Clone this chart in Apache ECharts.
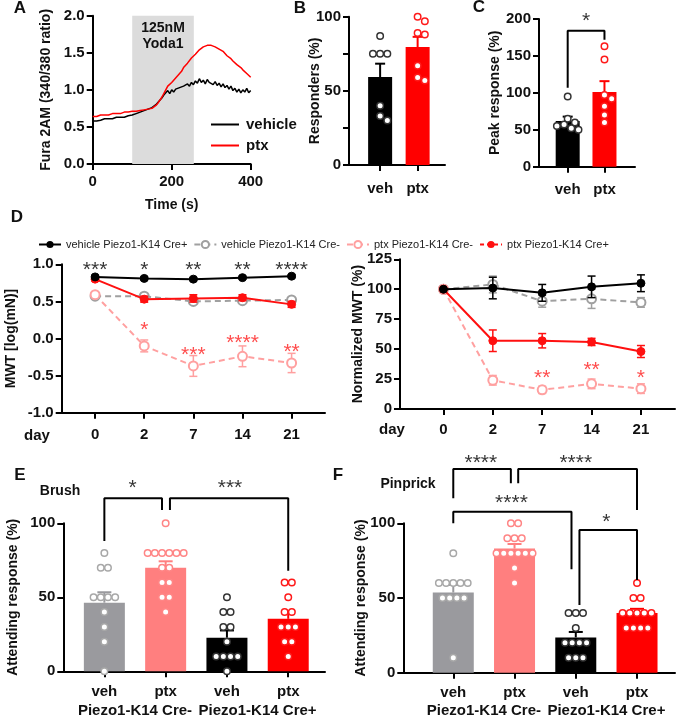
<!DOCTYPE html>
<html>
<head>
<meta charset="utf-8">
<script src="https://cdn.jsdelivr.net/npm/echarts@6.0.0/dist/echarts.min.js"></script>
<style>
html,body{margin:0;padding:0;background:#fff}
#chart{width:680px;height:719px}
</style>
</head>
<body>
<div id="chart"></div>
<script>
var FONT = '"Liberation Sans", Arial, sans-serif';

// ---- A: Fura-2 ratio traces, one sample every 5 s ----
var traceStep = 5;
var traceVehicle = [
  0.58,0.59,0.58,0.60,0.59,0.60,0.61,0.60,0.61,0.62,0.61,0.62,0.63,0.62,0.63,0.64,0.63,0.64,0.65,0.64,
  0.66,0.67,0.68,0.69,0.70,0.71,0.72,0.73,0.74,0.74,0.76,0.78,0.80,0.83,0.86,0.89,
  0.93,0.96,0.99,0.95,1.00,0.97,1.01,0.99,1.03,1.02,1.05,1.03,1.08,1.05,1.10,1.07,
  1.12,1.09,1.15,1.10,1.13,1.08,1.14,1.10,1.12,1.07,1.11,1.06,1.09,1.04,1.08,1.03,
  1.06,1.01,1.05,0.99,1.02,0.97,1.01,0.96,1.00,0.97,1.02,0.96,0.99
];
var tracePtx = [
  0.64,0.65,0.64,0.65,0.66,0.65,0.66,0.67,0.66,0.67,0.68,0.67,0.68,0.69,0.68,0.69,0.70,0.69,0.70,0.71,
  0.71,0.72,0.71,0.73,0.72,0.74,0.73,0.75,0.74,0.73,0.75,0.77,0.79,0.82,0.86,0.90,
  0.95,1.00,1.05,1.03,1.10,1.09,1.16,1.15,1.22,1.25,1.30,1.30,1.36,1.37,1.43,1.44,
  1.48,1.50,1.54,1.55,1.58,1.57,1.60,1.59,1.60,1.58,1.58,1.56,1.55,1.53,1.52,1.50,
  1.46,1.44,1.42,1.39,1.37,1.34,1.32,1.30,1.27,1.25,1.22,1.20,1.17
];
var yodaWindow = [100, 256];

// ---- B, C ----
var vehPtx = ['veh', 'ptx'];
var respVeh = [87, 75, 75, 75, 40, 33, 30];
var respPtx = [100, 97, 89, 88, 67, 59, 57];
var peakVeh = [95, 65, 60, 57, 55, 52, 50];
var peakPtx = [163, 145, 97, 92, 82, 70, 60];

// ---- D: von Frey ----
var days = ['0', '2', '7', '14', '21'];
var mwtVehPos = [0.83, 0.81, 0.80, 0.82, 0.84];
var mwtVehPosErr = [0.02, 0.02, 0.02, 0.02, 0.02];
var mwtVehNeg = [0.57, 0.57, 0.50, 0.51, 0.52];
var mwtVehNegErr = [0.02, 0.03, 0.03, 0.02, 0.02];
var mwtPtxNeg = [0.59, -0.10, -0.37, -0.24, -0.33];
var mwtPtxNegErr = [0.03, 0.08, 0.14, 0.14, 0.13];
var mwtPtxPos = [0.80, 0.53, 0.54, 0.55, 0.46];
var mwtPtxPosErr = [0.02, 0.04, 0.05, 0.04, 0.04];

var normVehPos = [100, 101, 97, 102, 105];
var normVehPosErr = [0, 9, 7, 9, 7];
var normVehNeg = [100, 104, 90, 92, 89];
var normVehNegErr = [0, 7, 5, 8, 4];
var normPtxNeg = [100, 24, 16, 21, 17];
var normPtxNegErr = [0, 4, 3, 4, 4];
var normPtxPos = [100, 57, 57, 56, 48];
var normPtxPosErr = [0, 9, 6, 3, 5];

var mwtStarsBlack = ['***', '*', '**', '**', '****'];
var mwtStarsRed = [['*', 1, 0.18], ['***', 2, -0.15], ['****', 3, 0.01], ['**', 4, -0.11]];
var normStarsRed = [['**', 2, 30], ['**', 3, 37], ['*', 4, 30]];

// ---- E, F: attending response ----
var efCats = ['veh', 'ptx', 'veh', 'ptx'];
var efGroups = ['Piezo1-K14 Cre-', 'Piezo1-K14 Cre+'];
var brushVehNeg = [80, 70, 70, 50, 50, 50, 50, 40, 30, 20, 0];
var brushPtxNeg = [100, 80, 80, 80, 80, 80, 80, 70, 70, 60, 60, 50, 50, 40];
var brushVehPos = [50, 40, 40, 30, 30, 20, 10, 10, 10, 10, 0];
var brushPtxPos = [60, 60, 50, 40, 40, 30, 30, 30, 20, 20, 10];
var pinVehNeg = [80, 60, 60, 60, 60, 60, 50, 50, 50, 50, 10];
var pinPtxNeg = [100, 100, 90, 90, 90, 80, 80, 80, 80, 80, 80, 70, 60];
var pinVehPos = [40, 40, 40, 30, 20, 20, 20, 20, 10, 10, 10];
var pinPtxPos = [60, 50, 50, 40, 40, 40, 40, 40, 30, 30, 30, 30];

var barColors = ['#9a9a9e', '#ff7f7f', '#000000', '#ff0000'];
var dotColors = ['#a8a8a8', '#ff8585', '#333333', '#ff1a1a'];

// ---------------------------------------------------------------
function mean(a) { var s = 0; a.forEach(function (v) { s += v; }); return s / a.length; }
function sem(a) {
  var m = mean(a), s = 0;
  a.forEach(function (v) { s += (v - m) * (v - m); });
  return Math.sqrt(s / (a.length - 1)) / Math.sqrt(a.length);
}

// column scatter: rows of equal values centred, shifted sideways on collision
function swarm(values, pxY, pxX, d) {
  var sorted = values.slice().sort(function (a, b) { return b - a; });
  var placed = [], out = [], i = 0;
  while (i < sorted.length) {
    var j = i;
    while (j < sorted.length && sorted[j] === sorted[i]) j++;
    var k = j - i, v = sorted[i];
    var shifts = [0];
    for (var s = 1; s < 30; s++) shifts.push(s * d / 2, -s * d / 2);
    for (var si = 0; si < shifts.length; si++) {
      var xs = [];
      for (var r = 0; r < k; r++) xs.push((r - (k - 1) / 2) * d + shifts[si]);
      var ok = xs.every(function (x) {
        return placed.every(function (p) {
          var dx = x - p[0], dy = (v - p[1]) * pxY;
          return dx * dx + dy * dy >= d * d * 0.9;
        });
      });
      if (ok) {
        xs.forEach(function (x) { placed.push([x, v]); out.push([x / pxX, v]); });
        break;
      }
    }
    i = j;
  }
  return out;
}

function errorBar(cap, lw, oneSided, colors) {
  return function (params, api) {
    var x = api.value(0), m = api.value(1), e = api.value(2);
    var color = colors[api.value(3)];
    if (!e) return { type: 'group', children: [] };
    var top = api.coord([x, m + e]);
    var bot = api.coord([x, oneSided ? m : m - e]);
    var st = { stroke: color, lineWidth: lw };
    var kids = [
      { type: 'line', shape: { x1: top[0], y1: top[1], x2: bot[0], y2: bot[1] }, style: st },
      { type: 'line', shape: { x1: top[0] - cap / 2, y1: top[1], x2: top[0] + cap / 2, y2: top[1] }, style: st }
    ];
    if (!oneSided) {
      kids.push({ type: 'line', shape: { x1: bot[0] - cap / 2, y1: bot[1], x2: bot[0] + cap / 2, y2: bot[1] }, style: st });
    }
    return { type: 'group', children: kids };
  };
}

var grid = [], xAxis = [], yAxis = [], series = [], graphic = [];
var lineStyleAxis = { show: true, onZero: false, lineStyle: { color: '#000', width: 2 } };
var tickStyle = { show: true, length: 6, lineStyle: { color: '#000', width: 2 } };
function lbl(size, margin) {
  return { color: '#111', fontFamily: FONT, fontWeight: 'bold', fontSize: size, margin: margin };
}
var nameStyle = { color: '#111', fontFamily: FONT, fontWeight: 'bold', fontSize: 14 };

function addGrid(b) {
  b.outerBoundsMode = 'none';
  b.containLabel = false;
  grid.push(b);
  return grid.length - 1;
}
function addY(gi, min, max, interval, name, gap, fmt) {
  yAxis.push({
    type: 'value', gridIndex: gi, min: min, max: max, interval: interval,
    axisLine: lineStyleAxis, axisTick: tickStyle, splitLine: { show: false },
    axisLabel: Object.assign(lbl(15, 8), { formatter: fmt }),
    name: name, nameLocation: 'middle', nameGap: gap, nameRotate: 90,
    nameTextStyle: nameStyle, nameMoveOverlap: false
  });
  return yAxis.length - 1;
}
function addCatX(gi, min, max, labels, margin) {
  var idx = labels.map(function (l, i) { return i; });
  xAxis.push({
    type: 'value', gridIndex: gi, min: min, max: max,
    axisLine: lineStyleAxis, splitLine: { show: false },
    axisTick: Object.assign({ customValues: idx }, tickStyle),
    axisLabel: Object.assign(lbl(15, margin), {
      customValues: idx,
      formatter: function (v) { return labels[Math.round(v)]; }
    })
  });
  return xAxis.length - 1;
}
function addGroupX(gi, min, max, margin) {
  xAxis.push({
    type: 'value', gridIndex: gi, min: min, max: max, position: 'bottom', offset: 0,
    axisLine: { show: false }, axisTick: { show: false }, splitLine: { show: false },
    axisLabel: Object.assign(lbl(15, margin), {
      customValues: [0.5, 2.5],
      formatter: function (v) { return efGroups[v < 1.5 ? 0 : 1]; }
    })
  });
}

function barPanel(xi, yi, box, xr, yr, groups, bc, dc, barW, cap) {
  var pxY = box.height / (yr[1] - yr[0]);
  var pxX = box.width / (xr[1] - xr[0]);
  series.push({
    type: 'bar', xAxisIndex: xi, yAxisIndex: yi, barWidth: barW, silent: true, z: 2,
    data: groups.map(function (g, i) { return { value: [i, mean(g)], itemStyle: { color: bc[i] } }; })
  });
  series.push({
    type: 'custom', xAxisIndex: xi, yAxisIndex: yi, silent: true, z: 3,
    renderItem: errorBar(cap, 2, true, bc), encode: { x: 0, y: 1 },
    data: groups.map(function (g, i) { return [i, mean(g), sem(g), i]; })
  });
  groups.forEach(function (g, i) {
    series.push({
      type: 'scatter', xAxisIndex: xi, yAxisIndex: yi, silent: true, z: 4, clip: false,
      symbol: 'circle', symbolSize: 6.5,
      itemStyle: { color: '#fff', borderColor: dc[i], borderWidth: 1.5, opacity: 1 },
      data: swarm(g, pxY, pxX, 7.2).map(function (p) { return [i + p[0], p[1]]; })
    });
  });
}

function bracket(xi, yi, pts) {
  series.push({
    type: 'line', xAxisIndex: xi, yAxisIndex: yi, data: pts, symbol: 'none',
    clip: false, silent: true, z: 5, lineStyle: { color: '#000', width: 2 }
  });
}
function stars(xi, yi, list, color, size) {
  series.push({
    type: 'scatter', xAxisIndex: xi, yAxisIndex: yi, symbolSize: 1, clip: false, silent: true, z: 6,
    itemStyle: { color: 'rgba(0,0,0,0)' },
    label: {
      show: true, position: 'inside', offset: [0, size * 0.25],
      formatter: function (p) { return p.data[2]; },
      color: color, fontSize: size, fontFamily: FONT
    },
    data: list.map(function (s) { return [s[1], s[2], s[0]]; })
  });
}

function dLine(xi, yi, name, vals, errs, color, dashed, open, z) {
  series.push({
    type: 'line', name: name, xAxisIndex: xi, yAxisIndex: yi, z: z,
    data: vals.map(function (v, i) { return [i, v]; }),
    symbol: 'circle', symbolSize: open ? 9 : 8,
    lineStyle: { color: color, width: 2, type: dashed ? [6, 4] : 'solid' },
    itemStyle: open ? { color: '#fff', borderColor: color, borderWidth: 2 } : { color: color, borderColor: color }
  });
  series.push({
    type: 'custom', xAxisIndex: xi, yAxisIndex: yi, silent: true, z: z,
    renderItem: errorBar(8, 1.5, false, [color]), encode: { x: 0, y: 1 },
    data: vals.map(function (v, i) { return [i, v, errs[i], 0]; })
  });
}

function text(str, x, y, size, color, weight) {
  graphic.push({
    type: 'text', x: x, y: y, silent: true,
    style: {
      text: str, fill: color || '#111',
      font: (weight || 'bold') + ' ' + size + 'px ' + FONT,
      textAlign: 'center', textVerticalAlign: 'middle', align: 'center', verticalAlign: 'middle'
    }
  });
}

var STAR = 21;

// ---- A ----
var gA = addGrid({ left: 92.7, top: 15.7, width: 158, height: 148.3 });
xAxis.push({
  type: 'value', gridIndex: gA, min: 0, max: 400, interval: 200,
  axisLine: lineStyleAxis, axisTick: tickStyle, splitLine: { show: false },
  axisLabel: lbl(15, 10),
  name: 'Time (s)', nameLocation: 'middle', nameGap: 34, nameTextStyle: nameStyle, nameMoveOverlap: false
});
var xA = xAxis.length - 1;
var yA = addY(gA, 0, 2, 0.5, 'Fura 2AM (340/380 ratio)', 40, function (v) { return v.toFixed(1); });
series.push({
  type: 'line', name: 'vehicle', xAxisIndex: xA, yAxisIndex: yA, z: 2, symbol: 'none',
  data: traceVehicle.map(function (v, i) { return [i * traceStep, v]; }),
  lineStyle: { color: '#000', width: 1.5 }, itemStyle: { color: '#000' },
  markArea: {
    silent: true, itemStyle: { color: '#dcdcdc' },
    label: {
      show: true, position: 'insideTop', distance: 4, formatter: '125nM\nYoda1',
      color: '#111', fontFamily: FONT, fontWeight: 'bold', fontSize: 14, lineHeight: 16
    },
    data: [[{ xAxis: yodaWindow[0] }, { xAxis: yodaWindow[1] }]]
  }
});
series.push({
  type: 'line', name: 'ptx', xAxisIndex: xA, yAxisIndex: yA, z: 3, symbol: 'none',
  data: tracePtx.map(function (v, i) { return [i * traceStep, v]; }),
  lineStyle: { color: '#ff0000', width: 1.5 }, itemStyle: { color: '#ff0000' }
});

// ---- B ----
var boxB = { left: 349, top: 16.7, width: 96, height: 148.3 };
var gB = addGrid(boxB);
var xB = addCatX(gB, -0.83, 1.73, vehPtx, 16);
var yB = addY(gB, 0, 100, 25, 'Responders (%)', 27, function (v) { return v % 50 === 0 ? String(v) : ''; });
barPanel(xB, yB, boxB, [-0.83, 1.73], [0, 100], [respVeh, respPtx], ['#000', '#ff0000'], ['#333', '#ff1a1a'], 24, 10);

// ---- C ----
var boxC = { left: 539, top: 19, width: 96, height: 147.7 };
var gC = addGrid(boxC);
var xC = addCatX(gC, -0.78, 1.83, vehPtx, 16);
var yC = addY(gC, 0, 200, 50, 'Peak response (%)', 37, function (v) { return String(v); });
barPanel(xC, yC, boxC, [-0.78, 1.83], [0, 200], [peakVeh, peakPtx], ['#000', '#ff0000'], ['#333', '#ff1a1a'], 24, 10);
bracket(xC, yC, [[0, 107], [0, 184], [1, 184], [1, 172]]);
stars(xC, yC, [['*', 0.5, 204]], '#000', STAR);

// ---- D left ----
var gDl = addGrid({ left: 61.7, top: 264.3, width: 263.3, height: 148.4 });
var xDl = addCatX(gDl, -0.68, 4.68, days, 15);
var yDl = addY(gDl, -1, 1, 0.5, 'MWT [log(mN)]', 44, function (v) { return v.toFixed(1); });
dLine(xDl, yDl, 'vehicle Piezo1-K14 Cre-', mwtVehNeg, mwtVehNegErr, '#a0a0a0', true, true, 2);
dLine(xDl, yDl, 'ptx Piezo1-K14 Cre-', mwtPtxNeg, mwtPtxNegErr, '#ffa0a0', true, true, 2);
dLine(xDl, yDl, 'ptx Piezo1-K14 Cre+', mwtPtxPos, mwtPtxPosErr, '#ff1010', false, false, 3);
dLine(xDl, yDl, 'vehicle Piezo1-K14 Cre+', mwtVehPos, mwtVehPosErr, '#000', false, false, 4);
stars(xDl, yDl, mwtStarsBlack.map(function (s, i) { return [s, i, 0.99]; }), '#000', STAR);
stars(xDl, yDl, mwtStarsRed, '#ff2020', STAR);
text('day', 37, 436, 15);

// ---- D right ----
var gDr = addGrid({ left: 400, top: 259.3, width: 275, height: 149.7 });
var xDr = addCatX(gDr, -0.88, 4.69, days, 13);
var yDr = addY(gDr, 0, 125, 25, 'Normalized MWT (%)', 35, function (v) { return String(v); });
dLine(xDr, yDr, 'vehicle Piezo1-K14 Cre-', normVehNeg, normVehNegErr, '#a0a0a0', true, true, 2);
dLine(xDr, yDr, 'ptx Piezo1-K14 Cre-', normPtxNeg, normPtxNegErr, '#ffa0a0', true, true, 2);
dLine(xDr, yDr, 'ptx Piezo1-K14 Cre+', normPtxPos, normPtxPosErr, '#ff1010', false, false, 3);
dLine(xDr, yDr, 'vehicle Piezo1-K14 Cre+', normVehPos, normVehPosErr, '#000', false, false, 4);
stars(xDr, yDr, normStarsRed, '#ff2020', STAR);
text('day', 392, 430, 15);

// ---- E ----
var boxE = { left: 63.3, top: 523.3, width: 261.7, height: 148 };
var gE = addGrid(boxE);
var xE = addCatX(gE, -0.67, 3.6, efCats, 13);
addGroupX(gE, -0.67, 3.6, 32);
var yE = addY(gE, 0, 100, 50, 'Attending response (%)', 43, function (v) { return String(v); });
barPanel(xE, yE, boxE, [-0.67, 3.6], [0, 100], [brushVehNeg, brushPtxNeg, brushVehPos, brushPtxPos], barColors, dotColors, 41, 14);
bracket(xE, yE, [[0, 88], [0, 117], [0.94, 117], [0.94, 109]]);
bracket(xE, yE, [[1.07, 109], [1.07, 117], [3, 117], [3, 68]]);
stars(xE, yE, [['*', 0.46, 127], ['***', 2.05, 127]], '#000', STAR);
text('Brush', 60, 491, 14);

// ---- F ----
var boxF = { left: 403.3, top: 523.3, width: 271.7, height: 149.4 };
var gF = addGrid(boxF);
var xF = addCatX(gF, -0.816, 3.62, efCats, 12.5);
addGroupX(gF, -0.816, 3.62, 30.5);
var yF = addY(gF, 0, 100, 50, 'Attending response (%)', 35, function (v) { return String(v); });
barPanel(xF, yF, boxF, [-0.816, 3.62], [0, 100], [pinVehNeg, pinPtxNeg, pinVehPos, pinPtxPos], barColors, dotColors, 41, 14);
bracket(xF, yF, [[0, 116.7], [0, 136.3], [0.94, 136.3], [0.94, 126.8]]);
bracket(xF, yF, [[1.06, 126.8], [1.06, 136.3], [3, 136.3], [3, 108.9]]);
bracket(xF, yF, [[0, 100], [0, 107.8], [1.93, 107.8], [1.93, 69.2]]);
bracket(xF, yF, [[2.06, 45.3], [2.06, 95.5], [3, 95.5], [3, 62]]);
stars(xF, yF, [['****', 0.45, 143.7], ['****', 2.0, 143.7], ['****', 0.95, 116.7], ['*', 2.5, 104.4]], '#000', STAR);
text('Pinprick', 408, 484, 14);

// ---- panel letters ----
text('A', 20, 8, 17);
text('B', 300, 8, 17);
text('C', 479, 7, 17);
text('D', 17, 217, 17);
text('E', 20, 475, 17);
text('F', 338, 475, 17);

var legendText = { color: '#222', fontFamily: FONT, fontSize: 11 };
var option = {
  animation: false,
  backgroundColor: '#fff',
  grid: grid, xAxis: xAxis, yAxis: yAxis, series: series, graphic: graphic,
  legend: [{
    data: ['vehicle', 'ptx'], orient: 'vertical', left: 206, top: 112,
    icon: 'rect', itemWidth: 28, itemHeight: 2, itemGap: 6, selectedMode: false,
    textStyle: { color: '#111', fontFamily: FONT, fontWeight: 'bold', fontSize: 15, padding: [0, 0, 0, 2] }
  }, {
    data: [
      { name: 'vehicle Piezo1-K14 Cre+' },
      { name: 'vehicle Piezo1-K14 Cre-' },
      { name: 'ptx Piezo1-K14 Cre-' },
      { name: 'ptx Piezo1-K14 Cre+', lineStyle: { type: [4, 3] } }
    ],
    left: 33, top: 234, itemWidth: 22, itemHeight: 9, itemGap: 6, selectedMode: false,
    textStyle: legendText
  }]
};

var chart = echarts.init(document.getElementById('chart'), null, { renderer: 'canvas' });
chart.setOption(option);
</script>
</body>
</html>
